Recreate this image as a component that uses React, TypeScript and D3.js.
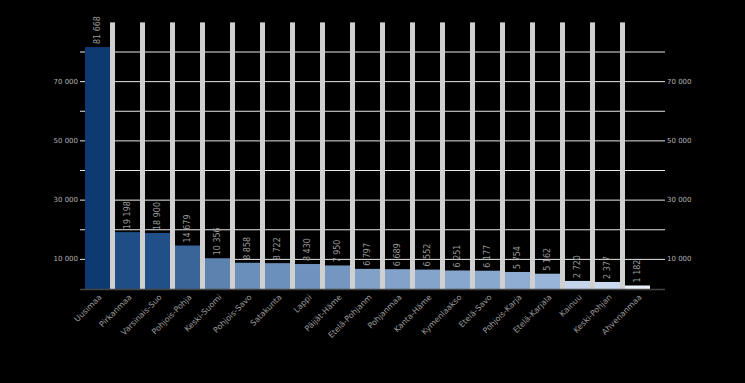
import React from "react";
import * as d3 from "d3";

const categories = [
  "Uusimaa", "Pirkanmaa", "Varsinais-Suo", "Pohjois-Pohja", "Keski-Suomi",
  "Pohjois-Savo", "Satakunta", "Lappi", "Päijät-Häme", "Etelä-Pohjanm",
  "Pohjanmaa", "Kanta-Häme", "Kymenlaakso", "Etelä-Savo", "Pohjois-Karja",
  "Etelä-Karjala", "Kainuu", "Keski-Pohjan", "Ahvenanmaa",
];
const values = [
  81668, 19198, 18900, 14679, 10356, 8858, 8722, 8430, 7950, 6797,
  6689, 6552, 6251, 6177, 5754, 5162, 2720, 2377, 1182,
];
const gridTicks = [10000, 20000, 30000, 40000, 50000, 60000, 70000, 80000];
const labelTicks = [10000, 30000, 50000, 70000];

const W = 745;
const H = 383;

const fmt = (v: number) => d3.format(",")(v).replace(/,/g, " ");

export default function App() {
  const x = d3.scaleBand<string>().domain(categories).range([85, 655]).padding(0);
  const y = d3.scaleLinear().domain([0, 80000]).range([289, 52]);
  const color = d3
    .scaleLog<string>()
    .domain([1182, 2720, 5162, 8858, 19198, 81668])
    .range(["#eaf0f9", "#c5d5ec", "#98b4d8", "#6b8fbb", "#1f4e87", "#0d3a70"])
    .interpolate(d3.interpolateRgb);
  const sepW = 5;
  const barW = x.bandwidth() - sepW;
  const gx0 = 80;
  const gx1 = 665;
  const font = "DejaVu Sans, Verdana, sans-serif";

  return (
    <div style={{ position: "fixed", left: 0, top: 0, width: W, height: H, background: "#000" }}>
      <svg width={W} height={H} style={{ display: "block" }}>
        <rect x={0} y={0} width={W} height={H} fill="#000" />
        {gridTicks.map((t) => (
          <line key={t} x1={gx0} x2={gx1} y1={y(t)} y2={y(t)} stroke="#e6e6e6" strokeWidth={1} />
        ))}
        {labelTicks.map((t) => (
          <g key={"l" + t} fontFamily={font} fontSize={7} fill="#b0b0b0">
            <text x={gx0 - 2} y={y(t)} textAnchor="end" dominantBaseline="central">{fmt(t)}</text>
            <text x={gx1 + 2} y={y(t)} textAnchor="start" dominantBaseline="central">{fmt(t)}</text>
          </g>
        ))}
        {categories.map((c, i) =>
          i < categories.length - 1 ? (
            <rect key={"s" + c} x={(x(c) as number) + barW} y={y(90000)} width={sepW} height={y(0) - y(90000)} fill="#d0d0d0" />
          ) : null
        )}
        {categories.map((c, i) => (
          <rect key={"b" + c} x={x(c) as number} y={y(values[i])} width={barW} height={y(0) - y(values[i])} fill={color(values[i])} />
        ))}
        <line x1={gx0} x2={gx1} y1={y(0) + 0.5} y2={y(0) + 0.5} stroke="#444" strokeWidth={1.5} />
        {categories.map((c, i) => {
          const cx = (x(c) as number) + barW / 2;
          const ty = y(values[i]) - 3;
          return (
            <text key={"v" + c} transform={`translate(${cx},${ty}) rotate(-90)`} fontFamily={font} fontSize={8} fill="#9a9a9a" textAnchor="start" dominantBaseline="central">
              {fmt(values[i])}
            </text>
          );
        })}
        {categories.map((c) => {
          const cx = (x(c) as number) + barW / 2 + 3;
          return (
            <text key={"c" + c} transform={`translate(${cx},${296}) rotate(-45)`} fontFamily={font} fontSize={8} fill="#9a9a9a" textAnchor="end" dominantBaseline="central">
              {c}
            </text>
          );
        })}
      </svg>
    </div>
  );
}
